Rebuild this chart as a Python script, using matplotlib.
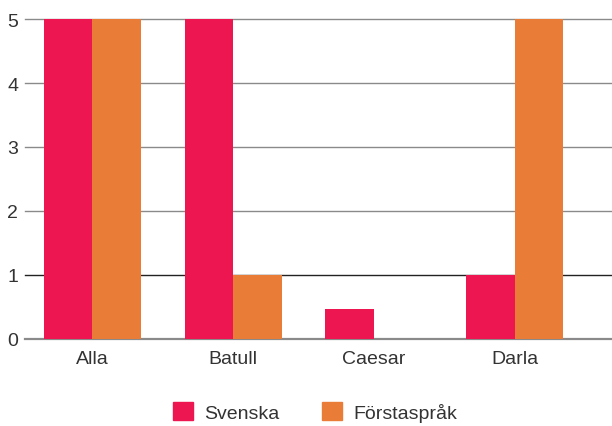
import matplotlib.pyplot as plt
import numpy as np
from matplotlib.patches import Patch

categories = ["Alla", "Batull", "Caesar", "Darla"]
svenska = [5, 5, 0.47, 1]
forstasprak = [5, 1, 0, 5]
yticks = [0, 1, 2, 3, 4, 5]

RED = "#EE1650"
ORANGE = "#E97C37"

plt.rcParams["font.family"] = ["Liberation Sans", "DejaVu Sans"]

fig = plt.figure(figsize=(6.12, 4.27), dpi=100)
ax = fig.add_axes([0.041, 0.204, 0.959, 0.752])

x = np.arange(len(categories))
width = 0.345
ax.bar(x - width / 2, svenska, width, color=RED, zorder=3)
ax.bar(x + width / 2, forstasprak, width, color=ORANGE, zorder=3)

ax.set_xlim(-0.478, 3.69)
ax.set_ylim(0, 5.02)
ax.set_yticks(yticks)
ax.set_xticks(x)
ax.set_xticklabels(categories)

for y in yticks:
    color = "#222222" if y == 1 else "#8a8a8a"
    lw = 1.6 if y == 0 else 1.0
    ax.axhline(y, color=color, linewidth=lw, zorder=2, clip_on=False)

for s in ax.spines.values():
    s.set_visible(False)
ax.tick_params(axis="both", length=0, labelsize=14, colors="#333333")
ax.tick_params(axis="y", pad=5)
ax.tick_params(axis="x", pad=8)

handles = [Patch(color=RED, label="Svenska"), Patch(color=ORANGE, label="Förstaspråk")]
fig.legend(handles=handles, loc="center", bbox_to_anchor=(0.515, 0.033), ncol=2,
           frameon=False, fontsize=14, handlelength=1.0, handleheight=1.0,
           handletextpad=0.6, columnspacing=2.2, labelcolor="#333333")

fig.savefig("out.png", dpi=100)
